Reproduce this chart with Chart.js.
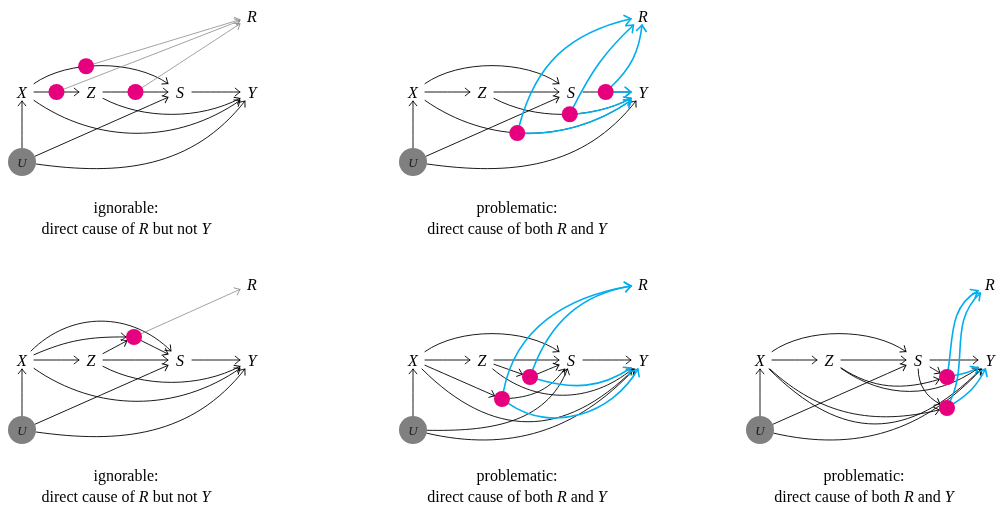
<!DOCTYPE html>
<html>
<head>
<meta charset="utf-8">
<script src="https://cdn.jsdelivr.net/npm/chart.js@4.4.1/dist/chart.umd.min.js"></script>
<style>
  html, body { margin: 0; padding: 0; background: #fff; }
  #wrap { width: 997px; height: 508px; }
</style>
</head>
<body>
<div id="wrap"><canvas id="c" width="997" height="508"></canvas></div>
<script>
// node layout of one DAG, relative to X
const nodeNames = ["X", "Z", "S", "Y", "R", "U"];
const nodeDx = [0, 69, 158, 230, 230, 0];
const nodeDy = [0, 0, 0, 0, -76, 70];

// where each panel's X sits
const panelX = [22, 413, 22, 413, 760];
const panelY = [92, 92, 360, 360, 360];
const panelTitle = ["ignorable:", "problematic:", "ignorable:", "problematic:", "problematic:"];
const panelCause = [
  "direct cause of R but not Y",
  "direct cause of both R and Y",
  "direct cause of R but not Y",
  "direct cause of both R and Y",
  "direct cause of both R and Y"
];

// extra mediator nodes (pink), relative to X
const mediatorDx = [[], [], [112], [117, 89], [187, 187]];
const mediatorDy = [[], [], [-23], [17, 39], [17, 48]];

// pink dots sitting on an existing edge: [from, to, t, role of the rest]
const edgeDots = [
  [["X", "S", 0.4, null], ["X", "Z", 0.5, null], ["Z", "S", 0.5, null]],
  [["X", "Y", 0.45, "open"], ["Z", "Y", 0.55, "open"], ["S", "Y", 0.47, "open"]],
  [], [], []
];

// edges: [from, to, bendOut, bendIn, looseness, role]
const baseEdges = [
  ["U", "X", 0, 0, 1, "path"], ["X", "Z", 0, 0, 1, "path"], ["Z", "S", 0, 0, 1, "path"],
  ["S", "Y", 0, 0, 1, "path"], ["X", "S", 35, 35, 0.8, "path"], ["X", "Y", -35, -35, 0.95, "path"],
  ["Z", "Y", -28, -28, 0.85, "path"], ["U", "S", 0, 0, 1, "path"], ["U", "Y", -25, -35, 1, "path"]
];
const panelEdges = [
  baseEdges.concat([
    ["D0", "R", 0, 0, 1, "toR"], ["D1", "R", 0, 0, 1, "toR"], ["D2", "R", 0, 0, 1, "toR"]
  ]),
  baseEdges.concat([
    ["D0", "R", 32, 30, 1.05, "open"], ["D1", "R", 10, 10, 1, "open"], ["D2", "R", -20, -20, 1, "open"]
  ]),
  [
    ["U", "X", 0, 0, 1, "path"], ["X", "Z", 0, 0, 1, "path"], ["Z", "S", 0, 0, 1, "path"],
    ["S", "Y", 0, 0, 1, "path"], ["X", "S", 45, 45, 1.03, "path"], ["X", "Y", -35, -35, 0.95, "path"],
    ["Z", "Y", -28, -28, 0.85, "path"], ["U", "S", 0, 0, 1, "path"], ["U", "Y", -25, -35, 1, "path"],
    ["X", "M0", 12, 12, 1, "path"], ["Z", "M0", 0, 0, 1, "path"], ["M0", "S", 0, 0, 1, "path"],
    ["M0", "R", 0, 0, 1, "toR"]
  ],
  [
    ["U", "X", 0, 0, 1, "path"], ["X", "Z", 0, 0, 1, "path"], ["Z", "S", 0, 0, 1, "path"],
    ["S", "Y", 0, 0, 1, "path"], ["X", "S", 35, 35, 0.8, "path"], ["X", "Y", -45, -45, 1.2, "path"],
    ["Z", "Y", -40, -40, 1, "path"], ["U", "S", -25, -45, 1, "path"], ["U", "Y", -30, -30, 1, "path"],
    ["Z", "M0", 0, 0, 1, "path"], ["M0", "S", 0, 0, 1, "path"], ["X", "M1", 0, 0, 1, "path"],
    ["M1", "S", -25, -25, 1, "path"],
    ["M0", "R", 30, 30, 1, "open"], ["M1", "R", 40, 30, 1, "open"],
    ["M0", "Y", -25, -25, 1, "open"], ["M1", "Y", -50, -45, 1, "open"]
  ],
  [
    ["U", "X", 0, 0, 1, "path"], ["X", "Z", 0, 0, 1, "path"], ["Z", "S", 0, 0, 1, "path"],
    ["S", "Y", 0, 0, 1, "path"], ["X", "S", 35, 35, 0.8, "path"], ["X", "Y", -45, -45, 1.25, "path"],
    ["Z", "Y", -35, -35, 1, "path"], ["U", "S", 0, 0, 1, "path"], ["U", "Y", -30, -30, 1, "path"],
    ["S", "M0", 0, 0, 1, "path"], ["S", "M1", -30, -30, 1, "path"], ["Z", "M0", -25, -25, 1, "path"],
    ["X", "M1", -28, -28, 1, "path"],
    ["M0", "R", 16, 36, 1, "open"], ["M1", "R", -6, 28, 1, "open"],
    ["M0", "Y", -10, -10, 1, "open"], ["M1", "Y", -15, -15, 1, "open"]
  ]
];

const roleStyle = {
  path: { color: "#000000", width: 0.9, tip: 4.8 },
  toR: { color: "#8a8a8a", width: 0.8, tip: 4.8 },
  open: { color: "#00aeef", width: 1.6, tip: 6 }
};
const roleOrder = ["path", "toR", "open"];

const DEG = Math.PI / 180;

function shapeOf(ref) {
  if (ref === "U") return { r: 14 };
  if (ref[0] === "D" || ref[0] === "M") return { r: 8 };
  return { hw: 12, hh: 9 };
}

function border(c, s, ux, uy) {
  if (s.r) return { x: c.x + s.r * ux, y: c.y + s.r * uy };
  const tx = Math.abs(ux) > 1e-9 ? s.hw / Math.abs(ux) : 1e9;
  const ty = Math.abs(uy) > 1e-9 ? s.hh / Math.abs(uy) : 1e9;
  const t = Math.min(tx, ty);
  return { x: c.x + t * ux, y: c.y + t * uy };
}

// tikz-like "bend" curve between two node borders
function curve(a, sa, b, sb, bo, bi, loose) {
  const ang = Math.atan2(b.y - a.y, b.x - a.x);
  const oa = ang - bo * DEG;
  const ia = ang + bi * DEG;
  const p0 = border(a, sa, Math.cos(oa), Math.sin(oa));
  const p3 = border(b, sb, -Math.cos(ia), -Math.sin(ia));
  const d = 0.3915 * loose * Math.hypot(p3.x - p0.x, p3.y - p0.y);
  return [
    p0,
    { x: p0.x + d * Math.cos(oa), y: p0.y + d * Math.sin(oa) },
    { x: p3.x - d * Math.cos(ia), y: p3.y - d * Math.sin(ia) },
    p3
  ];
}

function lerp(p, q, t) {
  return { x: p.x + (q.x - p.x) * t, y: p.y + (q.y - p.y) * t };
}

function split(c, t) {
  const a = lerp(c[0], c[1], t), b = lerp(c[1], c[2], t), e = lerp(c[2], c[3], t);
  const f = lerp(a, b, t), g = lerp(b, e, t), h = lerp(f, g, t);
  return [[c[0], a, f, h], [h, g, e, c[3]]];
}

const layout = panelX.map((px, i) => {
  const pos = {};
  nodeNames.forEach((n, k) => { pos[n] = { x: px + nodeDx[k], y: panelY[i] + nodeDy[k] }; });
  mediatorDx[i].forEach((dx, k) => {
    pos["M" + k] = { x: px + dx, y: panelY[i] + mediatorDy[i][k] };
  });
  const geomOf = (e) => curve(pos[e[0]], shapeOf(e[0]), pos[e[1]], shapeOf(e[1]), e[2], e[3], e[4]);
  const strokes = [];
  edgeDots[i].forEach(([f, t, tt, rest], k) => {
    const e = panelEdges[i].find((q) => q[0] === f && q[1] === t);
    const parts = split(geomOf(e), tt);
    pos["D" + k] = parts[1][0];
    if (rest) strokes.push({ c: parts[1], role: rest });
  });
  panelEdges[i].forEach((e) => strokes.push({ c: geomOf(e), role: e[5] }));
  strokes.sort((a, b) => roleOrder.indexOf(a.role) - roleOrder.indexOf(b.role));
  return { pos, strokes };
});

const uPoints = layout.map((l) => ({ x: l.pos.U.x, y: l.pos.U.y }));
const dotPoints = [];
layout.forEach((l) => {
  Object.keys(l.pos).forEach((k) => {
    if (k[0] === "D" || k[0] === "M") dotPoints.push({ x: l.pos[k].x, y: l.pos[k].y });
  });
});

function drawTip(ctx, p, ang, size) {
  ctx.save();
  ctx.translate(p.x, p.y);
  ctx.rotate(ang);
  ctx.beginPath();
  ctx.moveTo(-size, -size * 0.8);
  ctx.quadraticCurveTo(-size * 0.2, -size * 0.15, 0, 0);
  ctx.quadraticCurveTo(-size * 0.2, size * 0.15, -size, size * 0.8);
  ctx.stroke();
  ctx.restore();
}

const edgePlugin = {
  id: "edges",
  beforeDatasetsDraw(chart) {
    const { ctx, scales } = chart;
    const P = (p) => ({ x: scales.x.getPixelForValue(p.x), y: scales.y.getPixelForValue(p.y) });
    ctx.save();
    ctx.lineCap = "round";
    ctx.lineJoin = "round";
    layout.forEach((l) => {
      l.strokes.forEach((s) => {
        const st = roleStyle[s.role];
        const c = s.c.map(P);
        ctx.strokeStyle = st.color;
        ctx.lineWidth = st.width;
        ctx.beginPath();
        ctx.moveTo(c[0].x, c[0].y);
        ctx.bezierCurveTo(c[1].x, c[1].y, c[2].x, c[2].y, c[3].x, c[3].y);
        ctx.stroke();
        let dx = c[3].x - c[2].x, dy = c[3].y - c[2].y;
        if (Math.hypot(dx, dy) < 0.01) { dx = c[3].x - c[0].x; dy = c[3].y - c[0].y; }
        drawTip(ctx, c[3], Math.atan2(dy, dx), st.tip);
      });
    });
    ctx.restore();
  }
};

function drawRich(ctx, text, cx, y, size) {
  const parts = text.split(/\b([RY])\b/).filter((s) => s.length);
  const fontOf = (s) => (/^[RY]$/.test(s) ? "italic " : "") + size + "px 'Liberation Serif', 'Times New Roman', serif";
  let w = 0;
  parts.forEach((s) => { ctx.font = fontOf(s); w += ctx.measureText(s).width; });
  let x = cx - w / 2;
  parts.forEach((s) => {
    ctx.font = fontOf(s);
    ctx.fillText(s, x, y);
    x += ctx.measureText(s).width;
  });
}

const labelPlugin = {
  id: "labels",
  afterDatasetsDraw(chart) {
    const { ctx, scales } = chart;
    const P = (p) => ({ x: scales.x.getPixelForValue(p.x), y: scales.y.getPixelForValue(p.y) });
    ctx.save();
    ctx.fillStyle = "#000";
    ctx.textAlign = "center";
    ctx.textBaseline = "alphabetic";
    layout.forEach((l, i) => {
      ["X", "Z", "S", "Y", "R"].forEach((n) => {
        const p = P(l.pos[n]);
        ctx.font = "italic 16px 'Liberation Serif', 'Times New Roman', serif";
        ctx.fillText(n, p.x, p.y + 5.5);
      });
      const u = P(l.pos.U);
      ctx.fillStyle = "#1a1a1a";
      ctx.font = "italic 13px 'Liberation Serif', 'Times New Roman', serif";
      ctx.fillText("U", u.x, u.y + 4.5);
      ctx.fillStyle = "#000";
      const cx = scales.x.getPixelForValue(panelX[i] + 104);
      const top = scales.y.getPixelForValue(panelY[i] + 121);
      ctx.textAlign = "center";
      ctx.font = "16px 'Liberation Serif', 'Times New Roman', serif";
      ctx.fillText(panelTitle[i], cx, top);
      ctx.textAlign = "left";
      drawRich(ctx, panelCause[i], cx, top + 21, 16);
      ctx.textAlign = "center";
    });
    ctx.restore();
  }
};

new Chart(document.getElementById("c"), {
  type: "scatter",
  data: {
    datasets: [
      {
        label: "U",
        data: uPoints,
        pointRadius: 14,
        pointHoverRadius: 14,
        backgroundColor: "#808080",
        borderWidth: 0
      },
      {
        label: "selected",
        data: dotPoints,
        pointRadius: 8,
        pointHoverRadius: 8,
        backgroundColor: "#e6007e",
        borderWidth: 0
      }
    ]
  },
  options: {
    responsive: false,
    animation: false,
    events: [],
    layout: { padding: 0, autoPadding: false },
    scales: {
      x: { type: "linear", min: 0, max: 997, display: false },
      y: { type: "linear", min: 0, max: 508, reverse: true, display: false }
    },
    plugins: { legend: { display: false }, tooltip: { enabled: false } }
  },
  plugins: [edgePlugin, labelPlugin]
});
</script>
</body>
</html>
